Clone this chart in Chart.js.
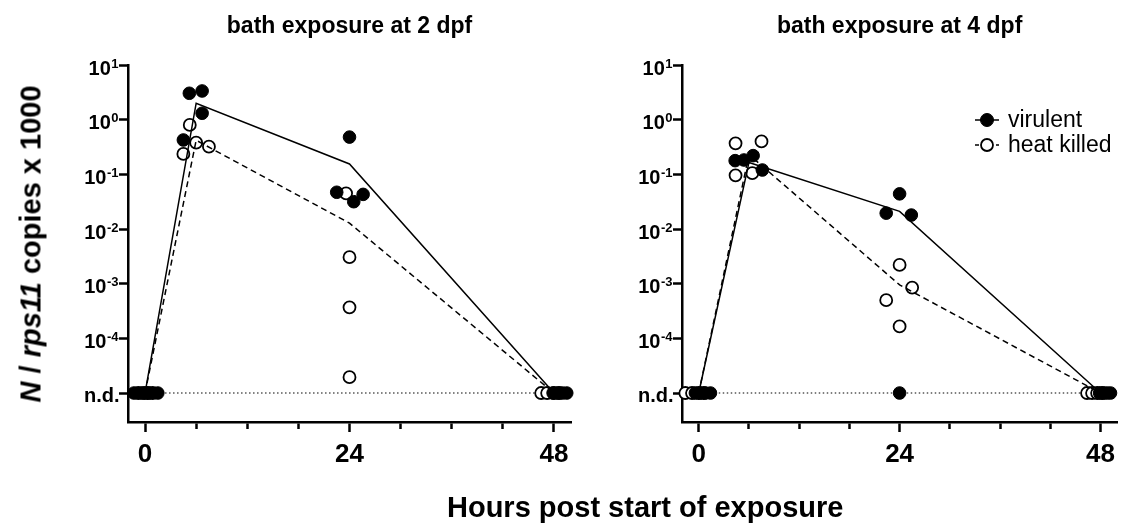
<!DOCTYPE html>
<html><head><meta charset="utf-8">
<script src="https://cdn.jsdelivr.net/npm/chart.js@4/dist/chart.umd.min.js"></script>
<style>
body{margin:0;background:#fff;}
#wrap{position:relative;width:1125px;height:523px;overflow:hidden;background:#fff;font-family:'Liberation Sans',Arial,sans-serif;color:#000;}
canvas{position:absolute;top:0;}
#ytitle{position:absolute;left:31px;top:244px;transform:translate(-50%,-50%) rotate(-90deg);white-space:nowrap;font-weight:bold;font-size:29px;}
#xtitle{position:absolute;left:447px;top:507px;transform:translate(0,-50%);white-space:nowrap;font-weight:bold;font-size:29px;}
</style></head>
<body><div id="wrap">
<canvas id="c1" width="590" height="523" style="left:0"></canvas>
<canvas id="c2" width="535" height="523" style="left:590px"></canvas>
<div id="ytitle"><i>N</i> / <i>rps11</i> copies x 1000</div>
<div id="xtitle">Hours post start of exposure</div>
</div>
<script>
// ---------- data ----------
const ND = 1e-5; // plotting level of "n.d." (not detected)
const panelTitles = ['bath exposure at 2 dpf', 'bath exposure at 4 dpf'];
const seriesNames = ['virulent', 'heat killed'];
const xTickValues = [0, 6, 12, 18, 24, 30, 36, 42, 48];
const xTickLabels = ['0', '', '', '', '24', '', '', '', '48'];
const yTickExponents = [1, 0, -1, -2, -3, -4];
const ndLabel = 'n.d.';
const meanHours = [0, 6, 24, 48];
const ndLineHours = [0, 48];

// bath exposure at 2 dpf
const vir2Hours  = [-1.3, -0.4, 0.5, 1.5, 4.5, 5.2, 6.7, 6.7, 22.5, 24, 24.5, 25.6, 47.9, 48.5, 49.0, 49.5];
const vir2Values = [ND, ND, ND, ND, 0.425, 3.04, 3.35, 1.31, 0.047, 0.48, 0.0316, 0.043, ND, ND, ND, ND];
const hk2Hours   = [-0.8, -0.1, 0.3, 0.9, 4.5, 5.25, 6.0, 7.5, 23.6, 24, 24, 24, 46.5, 47.2, 48.0, 48.6];
const hk2Values  = [ND, ND, ND, ND, 0.236, 0.8, 0.38, 0.32, 0.045, 0.00305, 0.00037, 0.0000195, ND, ND, ND, ND];
const vir2Mean   = [ND, 2.0, 0.155, ND];
const hk2Mean    = [ND, 0.42, 0.0128, ND];

// bath exposure at 4 dpf
const vir4Hours  = [-0.4, 0.2, 0.8, 1.4, 4.35, 5.4, 6.5, 7.6, 22.4, 24, 24, 25.4, 47.9, 48.4, 48.8, 49.2];
const vir4Values = [ND, ND, ND, ND, 0.178, 0.183, 0.22, 0.12, 0.0195, 0.044, ND, 0.018, ND, ND, ND, ND];
const hk4Hours   = [-1.6, -0.8, 0, 0.6, 4.4, 4.4, 6.4, 7.5, 22.4, 24, 24, 25.5, 46.4, 47.0, 47.6, 48.2];
const hk4Values  = [ND, ND, ND, ND, 0.37, 0.096, 0.105, 0.40, 0.0005, 0.0022, 0.000165, 0.00085, ND, ND, ND, ND];
const vir4Mean   = [ND, 0.165, 0.021, ND];
const hk4Mean    = [ND, 0.23, 0.00095, ND];

// ---------- drawing ----------
const FONT = "'Liberation Sans', Arial, sans-serif";
const Y_MIN = Math.pow(10, -5.53);
const Y_MAX = 10;

function pts(xs, ys) { return xs.map((x, i) => ({x: x, y: ys[i]})); }

const yLabelPlugin = {
  id: 'yLabels',
  afterDraw(chart) {
    const ctx = chart.ctx, s = chart.scales.y, xr = chart.chartArea.left - 9.5;
    ctx.save();
    ctx.fillStyle = '#000';
    yTickExponents.forEach(e => {
      const y = s.getPixelForValue(Math.pow(10, e));
      const ex = String(e);
      ctx.font = 'bold 13px ' + FONT;
      const ew = ctx.measureText(ex).width;
      ctx.textAlign = 'left'; ctx.textBaseline = 'alphabetic';
      ctx.fillText(ex, xr - ew, y + 2.5);
      ctx.font = 'bold 20px ' + FONT;
      ctx.textAlign = 'right';
      ctx.fillText('10', xr - ew - 0.5, y + 9.5);
    });
    const yn = s.getPixelForValue(ND);
    ctx.font = 'bold 20px ' + FONT;
    ctx.textAlign = 'right'; ctx.textBaseline = 'alphabetic';
    ctx.fillText(ndLabel, xr + 1, yn + 9);
    const leg = chart.options.plugins.yLabels && chart.options.plugins.yLabels.legend;
    if (leg) {
      const items = [{label: seriesNames[0], filled: true, dash: []}, {label: seriesNames[1], filled: false, dash: [4, 3]}];
      items.forEach((it, i) => {
        const cy = leg.y + i * leg.dy, cx = leg.x;
        ctx.beginPath(); ctx.setLineDash(it.dash); ctx.lineWidth = 1.5; ctx.strokeStyle = '#000';
        ctx.moveTo(cx - 12, cy); ctx.lineTo(cx + 12, cy); ctx.stroke();
        ctx.setLineDash([]);
        ctx.beginPath(); ctx.arc(cx, cy, it.filled ? 6.5 : 6, 0, Math.PI * 2);
        ctx.fillStyle = it.filled ? '#000' : '#fff'; ctx.fill();
        ctx.lineWidth = it.filled ? 1 : 1.8; ctx.stroke();
        ctx.fillStyle = '#000';
        ctx.font = '23px ' + FONT; ctx.textAlign = 'left'; ctx.textBaseline = 'middle';
        ctx.fillText(it.label, cx + 21, cy + 1);
      });
    }
    ctx.restore();
  }
};

function makePanel(id, title, virH, virV, hkH, hkV, virM, hkM, geom, legend) {
  return new Chart(document.getElementById(id), {
    type: 'scatter',
    data: {
      datasets: [
        {label: seriesNames[0] + ' mean', data: pts(meanHours, virM), showLine: true, pointRadius: 0,
         borderColor: '#000', borderWidth: 1.5, fill: false, clip: false},
        {label: seriesNames[1] + ' mean', data: pts(meanHours, hkM), showLine: true, pointRadius: 0,
         borderColor: '#000', borderWidth: 1.5, borderDash: [6, 4], fill: false, clip: false},
        {label: seriesNames[0], data: pts(virH, virV), showLine: false, pointRadius: 6.3,
         pointBackgroundColor: '#000', pointBorderColor: '#000', pointBorderWidth: 1, clip: false},
        {label: seriesNames[1], data: pts(hkH, hkV), showLine: false, pointRadius: 6,
         pointBackgroundColor: '#fff', pointBorderColor: '#000', pointBorderWidth: 1.8, clip: false},
        {label: ndLabel, data: pts(ndLineHours, [ND, ND]), showLine: true, pointRadius: 0,
         borderColor: '#000', borderWidth: 1.2, borderDash: [1.5, 2.5], fill: false, clip: false}
      ]
    },
    options: {
      responsive: false, animation: false, events: [],
      layout: {padding: {left: 0, right: geom.padRight, top: 0, bottom: 0}},
      plugins: {
        legend: {display: false}, tooltip: {enabled: false},
        title: {display: true, text: title, fullSize: false, color: '#000',
                font: {family: FONT, size: 23, weight: 'bold', lineHeight: 1.2},
                padding: {top: 13.2, bottom: 24.2}},
        yLabels: {legend: legend}
      },
      scales: {
        x: {
          type: 'linear', min: -2, max: 50,
          afterBuildTicks: s => { s.ticks = xTickValues.map(v => ({value: v})); },
          afterFit: s => { s.height = 523 - 422; s.paddingLeft = 0; s.paddingRight = 0; },
          ticks: {autoSkip: false, maxRotation: 0, minRotation: 0, padding: 7, color: '#000',
                  font: {family: FONT, size: 26, weight: 'bold'},
                  callback: (v, i) => xTickLabels[i] !== undefined ? xTickLabels[i] : ''},
          grid: {display: true, drawOnChartArea: false, drawTicks: true, tickLength: 10, tickWidth: 2.5, tickColor: '#000',
                 tickBorderDash: c => (c.tick && c.tick.value % 24 !== 0) ? [5.5, 40] : []},
          border: {display: true, width: 2.5, color: '#000'}
        },
        y: {
          type: 'logarithmic', min: Y_MIN, max: Y_MAX,
          afterBuildTicks: s => { s.ticks = yTickExponents.map(e => ({value: Math.pow(10, e)})).concat([{value: ND}]); },
          afterFit: s => { s.width = geom.yWidth; s.paddingTop = 0; s.paddingBottom = 0; },
          ticks: {color: 'rgba(0,0,0,0)', callback: () => '', font: {family: FONT, size: 20, weight: 'bold'}},
          grid: {display: true, drawOnChartArea: false, drawTicks: true, tickLength: 9, tickWidth: 2.5, tickColor: '#000'},
          border: {display: true, width: 2.5, color: '#000'}
        }
      }
    },
    plugins: [yLabelPlugin]
  });
}

makePanel('c1', panelTitles[0], vir2Hours, vir2Values, hk2Hours, hk2Values, vir2Mean, hk2Mean,
          {yWidth: 128, padRight: 19}, null);
makePanel('c2', panelTitles[1], vir4Hours, vir4Values, hk4Hours, hk4Values, vir4Mean, hk4Mean,
          {yWidth: 92, padRight: 1}, {x: 397, y: 120, dy: 25});
</script>
</body></html>
